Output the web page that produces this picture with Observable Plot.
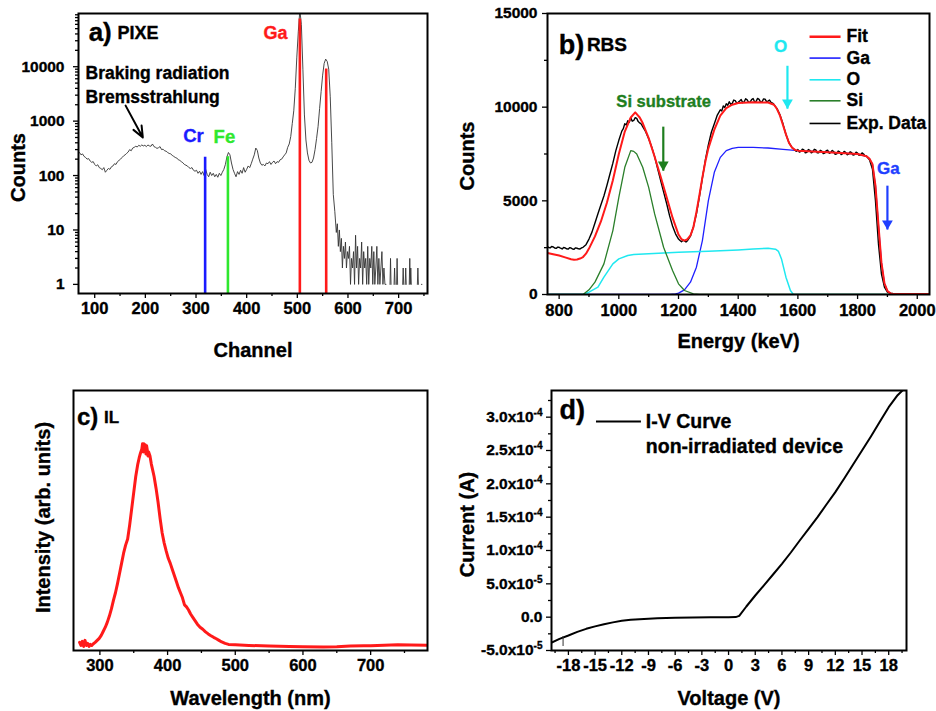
<!DOCTYPE html>
<html><head><meta charset="utf-8">
<script src="https://cdn.jsdelivr.net/npm/d3@7"></script>
<script src="https://cdn.jsdelivr.net/npm/@observablehq/plot@0.6"></script>
<style>
html,body{margin:0;padding:0;background:#fff;}
#wrap{position:relative;width:936px;height:711px;overflow:hidden;background:#fff;}
.panel{position:absolute;}
</style></head><body>
<div id="wrap">
<div class="panel" id="pa" style="left:0px;top:0px"></div>
<div class="panel" id="pb" style="left:440px;top:0px"></div>
<div class="panel" id="pc" style="left:0px;top:360px"></div>
<div class="panel" id="pd" style="left:440px;top:360px"></div>
</div>
<script>
// ---------------- Panel a) PIXE ----------------
const pixeSpectrum = [
[70,265],[73,240],[76,250],[79,225],[82,215],[85,200],[88,205],[91,185],[94,175],[97,180],[100,160],[103,150],[106,158],[109,140],[112,135],[115,128],[118,140],[121,115],[124,125],[127,135],[130,130],[133,145],[136,150],[139,165],[142,160],[145,180],[148,190],[151,200],[154,215],[157,230],[160,240],[163,255],[166,270],[169,300],[172,285],[175,320],[178,330],[181,345],[184,335],[187,360],[190,345],[193,365],[196,350],[199,360],[202,340],[205,365],[208,350],[211,345],[214,380],[217,340],[220,330],[223,315],[226,325],[229,340],[232,300],[235,305],[238,285],[241,280],[244,265],[247,255],[250,250],[253,235],[256,225],[259,215],[262,210],[265,195],[268,190],[271,180],[274,172],[277,160],[280,155],[283,150],[286,140],[289,135],[292,140],[295,125],[298,120],[301,125],[304,110],[307,120],[310,105],[313,118],[316,100],[319,130],[322,105],[325,95],[328,115],[331,100],[334,110],[337,95],[340,105],[343,93],[346,110],[349,100],[352,115],[355,130],[358,160],[361,220],[364,265],[367,240],[370,170],[373,130],[376,110],[379,95],[382,118],[385,105],[388,125],[391,110],[394,140],[397,115],[400,130],[403,150],[406,140],[409,165],[412,200],[415,240],[418,320],[421,290],[424,210],[427,170],[430,155],[433,160],[436,150],[439,170],[442,165],[445,180],[448,160],[451,175],[454,185],[457,165],[460,180],[463,175],[466,195],[469,200],[472,220],[475,240],[478,260],[481,330],[484,380],[487,520],[490,900],[493,1550],[496,4000],[499,15000],[502,45000],[505,110000],[508,60000],[511,9000],[514,1300],[517,450],[520,260],[523,190],[526,170],[529,175],[532,210],[535,300],[538,480],[541,800],[544,1700],[547,3500],[550,7000],[553,11500],[556,13800],[559,12500],[562,9000],[565,2800],[568,400],[571,45],[574,22],[577,9],[579,13],[581,5],[583,10],[585,4],[587,7],[589,2],[591,5],[593,3],[595,6],[597,2],[599,4],[601,3],[603,5],[605,1],[607,3],[609,2],[611,4],[613,1],[615,8],[617,2],[619,5],[621,1],[623,3],[625,2],[627,6],[629,1],[631,4],[633,2],[635,3],[637,1],[639,5],[641,1],[643,3],[645,2],[647,5],[649,1],[651,4],[653,1],[655,2],[657,5],[659,1],[661,3],[663,1],[665,2],[667,4],[669,1],[671,2],[673,1],[675,1],[676,null],[682,null],[683,1],[684,3],[685,1],[686,null],[690,null],[691,1],[692,2],[693,1],[694,null],[695,null],[696,1],[697,3],[698,1],[699,null],[707,null],[708,1],[709,2],[710,1],[711,null],[712,null],[713,1],[714,2],[715,1],[716,null],[720,null],[721,1],[722,3],[723,1],[724,2],[725,1],[726,null],[736,null],[737,1],[738,2],[739,1],[740,null],[744,null],[745,1],[746,1]
];
const pixeLineChannel = [318, 363, 505, 557];
const pixeLineTop = [217, 222, 75000, 9070];
const pixeLineColor = ["#1a1aff", "#2ee82e", "#ff1a1a", "#ff1a1a"];
const aXDomain = [68, 757];
const aYDomain = [0.68, 95000];
const aXTicks = [100, 200, 300, 400, 500, 600, 700];
const aXMinor = [150, 250, 350, 450, 550, 650, 750];
const aYTicks = [1, 10, 100, 1000, 10000];
const aYTickLabels = ["1", "10", "100", "1000", "10000"];

// ---------------- Panel b) RBS ----------------
const bExp = [
[761,2560],[765,2510],[770,2490],[775,2560],[780,2540],[785,2480],[790,2460],[795,2530],[800,2520],[805,2470],[810,2430],[815,2510],[820,2490],[825,2440],[830,2420],[835,2500],[840,2480],[845,2430],[850,2410],[855,2490],[860,2470],[865,2440],[870,2430],[875,2490],[880,2520],[890,2660],[900,2960],[910,3330],[920,3820],[930,4310],[940,4790],[950,5260],[960,5820],[970,6420],[980,7010],[990,7680],[1000,8230],[1010,8720],[1015,8850],[1020,9120],[1025,9050],[1030,9280],[1035,9200],[1040,9430],[1045,9250],[1050,9290],[1055,9440],[1060,9400],[1065,9230],[1070,9160],[1075,9100],[1080,8960],[1090,8690],[1100,8320],[1110,7880],[1120,7360],[1130,6720],[1140,6090],[1150,5480],[1160,4870],[1170,4210],[1180,3660],[1190,3240],[1200,2960],[1205,2880],[1210,2820],[1215,2900],[1220,2860],[1225,2800],[1230,2870],[1240,3120],[1250,3620],[1260,4310],[1270,5230],[1280,6210],[1290,7180],[1300,7990],[1310,8660],[1320,9120],[1330,9580],[1340,9860],[1345,9800],[1350,10060],[1355,9980],[1360,10180],[1365,10100],[1370,10290],[1375,10150],[1380,10200],[1385,10380],[1390,10350],[1395,10220],[1400,10260],[1405,10330],[1410,10410],[1415,10240],[1420,10290],[1425,10450],[1430,10390],[1435,10260],[1440,10270],[1445,10400],[1450,10460],[1455,10280],[1460,10310],[1465,10470],[1470,10420],[1475,10270],[1480,10290],[1485,10440],[1490,10430],[1495,10300],[1500,10320],[1505,10380],[1510,10260],[1515,10220],[1520,10140],[1530,9920],[1540,9590],[1550,9110],[1560,8540],[1570,8110],[1580,7850],[1585,7780],[1590,7710],[1595,7640],[1600,7740],[1605,7600],[1610,7640],[1615,7760],[1620,7720],[1625,7560],[1630,7590],[1635,7740],[1640,7690],[1645,7560],[1650,7610],[1655,7750],[1660,7720],[1665,7560],[1670,7570],[1675,7700],[1680,7660],[1685,7520],[1690,7550],[1695,7680],[1700,7700],[1705,7540],[1710,7570],[1715,7690],[1720,7630],[1725,7480],[1730,7510],[1735,7660],[1740,7610],[1745,7470],[1750,7520],[1755,7640],[1760,7590],[1765,7460],[1770,7490],[1775,7620],[1780,7570],[1785,7440],[1790,7470],[1795,7600],[1800,7550],[1805,7430],[1810,7450],[1815,7560],[1820,7500],[1825,7400],[1830,7380],[1840,7190],[1850,6680],[1860,5000],[1870,2700],[1880,1100],[1890,390],[1900,130],[1910,70],[1920,40],[1940,35],[1960,25],[1980,35],[2000,28],[2020,32],[2041,30]
];
const bFit = [
[761,2220],[780,2150],[800,2080],[820,1980],[840,1880],[850,1860],[860,1870],[870,1920],[880,2000],[890,2180],[900,2450],[920,3100],[940,3900],[960,4900],[980,6100],[1000,7500],[1020,8700],[1040,9450],[1055,9720],[1070,9450],[1080,9150],[1100,8350],[1120,7350],[1140,6300],[1160,5200],[1180,4100],[1200,3200],[1210,2950],[1220,2880],[1230,2950],[1240,3150],[1250,3600],[1260,4400],[1270,5300],[1280,6250],[1290,7100],[1300,7800],[1320,8800],[1340,9550],[1360,9950],[1380,10130],[1400,10220],[1450,10260],[1500,10250],[1520,10130],[1530,9900],[1540,9550],[1550,9050],[1560,8550],[1570,8100],[1580,7850],[1590,7720],[1600,7680],[1700,7600],[1800,7500],[1830,7380],[1840,7250],[1850,6950],[1860,5800],[1870,3700],[1880,1700],[1890,600],[1900,190],[1910,60],[1920,30],[2041,20]
];
const bGa = [
[761,0],[1170,0],[1190,30],[1200,70],[1220,250],[1240,660],[1260,1460],[1280,2880],[1300,5010],[1320,6520],[1340,7320],[1360,7680],[1380,7800],[1400,7850],[1450,7850],[1500,7820],[1550,7750],[1600,7680],[1700,7600],[1800,7500],[1830,7380],[1840,7250],[1850,6950],[1860,5800],[1870,3700],[1880,1700],[1890,600],[1900,190],[1910,60],[1920,0],[2041,0]
];
const bO = [
[761,0],[880,0],[900,124],[930,390],[950,924],[980,1635],[1000,1900],[1030,2080],[1050,2130],[1100,2170],[1200,2260],[1300,2310],[1400,2380],[1450,2430],[1500,2470],[1525,2420],[1535,2300],[1545,1900],[1560,924],[1575,213],[1585,0],[2041,0]
];
const bSi = [
[761,0],[880,0],[900,250],[920,660],[950,1635],[980,3410],[1000,5190],[1020,6790],[1040,7680],[1050,7640],[1060,7500],[1080,6790],[1100,5720],[1120,4300],[1150,2520],[1180,1280],[1200,570],[1220,213],[1250,35],[1270,0],[2041,0]
];
const bLegendLabels = ["Fit", "Ga", "O", "Si", "Exp. Data"];
const bLegendColor = ["#ff1a1a", "#1f1fff", "#1fe8f0", "#2a7f2a", "#000000"];
const bLegendY = [13760, 12620, 11460, 10340, 9130];
const bArrowX = [1565, 1149, 1900];
const bArrowTop = [12210, 8960, 5810];
const bArrowTip = [9920, 6610, 3470];
const bArrowColor = ["#1fe8f0", "#1e7e1e", "#1f3fff"];
const bXDomain = [761, 2041];
const bYDomain = [0, 15000];
const bXTicks = [800, 1000, 1200, 1400, 1600, 1800, 2000];
const bXMinor = [900, 1100, 1300, 1500, 1700, 1900];
const bYTicks = [0, 5000, 10000, 15000];
const bYMinor = [2500, 7500, 12500];

// ---------------- Panel c) IL ----------------
const ilSpectrum = [
[270,0.02],[272,0.005],[274,0.025],[276,0.0],[278,0.03],[280,0.005],[282,0.015],[284,0.0],[286,0.01],[288,0.005],[290,0.012],[293,0.02],[296,0.03],[299,0.04],[302,0.055],[305,0.075],[308,0.095],[311,0.12],[314,0.15],[317,0.185],[320,0.227],[323,0.265],[326,0.31],[329,0.36],[332,0.41],[335,0.46],[338,0.5],[341,0.53],[344,0.6],[347,0.68],[350,0.76],[353,0.84],[356,0.9],[358,0.93],[360,0.955],[362,0.975],[363,1.0],[364,0.96],[365,1.0],[366,0.97],[367,0.995],[368,0.95],[369,0.99],[370,0.97],[371,0.94],[372,0.96],[374,0.94],[376,0.9],[378,0.87],[380,0.84],[383,0.78],[386,0.71],[389,0.63],[392,0.56],[395,0.51],[398,0.47],[401,0.435],[404,0.41],[407,0.38],[410,0.35],[413,0.32],[416,0.29],[419,0.265],[422,0.24],[425,0.205],[428,0.195],[431,0.18],[434,0.16],[437,0.145],[440,0.13],[444,0.11],[448,0.095],[452,0.085],[456,0.072],[460,0.062],[464,0.053],[468,0.045],[472,0.038],[476,0.03],[480,0.022],[485,0.015],[490,0.01],[500,0.008],[520,0.005],[550,0.002],[580,0.0],[600,-0.002],[630,-0.003],[650,-0.002],[670,0.002],[690,0.004],[700,0.003],[720,0.006],[740,0.008],[760,0.007],[784,0.006]
];
const cXDomain = [261, 784];
const cYDomain = [-0.02, 1.263];
const cXTicks = [300, 400, 500, 600, 700];
const cXMinor = [350, 450, 550, 650, 750];

// ---------------- Panel d) I-V ----------------
const ivCurve = [
[-20,-3.9e-5],[-19,-3.25e-5],[-18,-2.75e-5],[-17,-2.2e-5],[-16,-1.75e-5],[-15,-1.38e-5],[-14,-1.05e-5],[-13,-7.8e-6],[-12,-5.5e-6],[-11,-4e-6],[-10,-3e-6],[-9,-2.2e-6],[-8,-1.6e-6],[-6,-1e-6],[-4,-6e-7],[-2,-3e-7],[0,0],[0.8,1e-7],[1.2,2e-6],[2,1.6e-5],[3,3.25e-5],[4,4.8e-5],[5,6.4e-5],[6,8e-5],[7,9.7e-5],[8,1.15e-4],[9,1.325e-4],[10,1.5e-4],[11,1.69e-4],[12,1.875e-4],[13,2.08e-4],[14,2.29e-4],[15,2.5e-4],[16,2.71e-4],[17,2.93e-4],[18,3.15e-4],[19,3.33e-4],[20,3.46e-4]
];
const ivSpike = [[-18.6, -2.9e-5, -4.4e-5]];
const dXDomain = [-19.9, 20.0];
const dYDomain = [-5e-5, 3.4e-4];
const dXTicks = [-18, -15, -12, -9, -6, -3, 0, 3, 6, 9, 12, 15, 18];
const dXMinor = [-19.5, -16.5, -13.5, -10.5, -7.5, -4.5, -1.5, 1.5, 4.5, 7.5, 10.5, 13.5, 16.5, 19.5];
const dYTicks = [-5e-5, 0, 5e-5, 1e-4, 1.5e-4, 2e-4, 2.5e-4, 3e-4];
const dYTickLabels = ["-5.0x10^-5", "0.0", "5.0x10^-5", "1.0x10^-4", "1.5x10^-4", "2.0x10^-4", "2.5x10^-4", "3.0x10^-4"];
const dYMinor = [-2.5e-5, 2.5e-5, 7.5e-5, 1.25e-4, 1.75e-4, 2.25e-4, 2.75e-4, 3.25e-4];

// ---------------- helpers ----------------
const FONT = "'Liberation Sans', Arial, Helvetica, sans-serif";
const style = {fontFamily: FONT, fontSize: "15px", fontWeight: "bold", color: "#000", background: "transparent", overflow: "visible"};

function tickMarks(axis, major, minor, fmt, opts) {
  const out = [];
  if (minor && minor.length) out.push(axis({ticks: minor, tickSize: 3, tickFormat: () => "", label: null, strokeWidth: 1.3}));
  out.push(axis({ticks: major, tickSize: 5, label: null, strokeWidth: 1.3, tickFormat: fmt, fontWeight: "bold", ...opts}));
  return out;
}
function title(text, frameAnchor, dx, dy, rotate) {
  return Plot.text([text], {frameAnchor, dx, dy, rotate: rotate || 0, textAnchor: "middle", lineAnchor: "middle", fontSize: 20, fontWeight: "bold", fill: "#000"});
}
function note(text, x, y, opts) {
  return Plot.text([text], {x: [x], y: [y], fontWeight: "bold", lineAnchor: "middle", ...opts});
}
const frame = () => Plot.frame({stroke: "#000", strokeWidth: 2});

// set tick-label font sizes and thicken glyphs slightly
function finish(svg, xSize, ySize) {
  for (const g of svg.querySelectorAll("g[aria-label]")) {
    const lab = g.getAttribute("aria-label");
    if (lab === "x-axis tick label") { g.setAttribute("font-size", xSize); g.style.fontSize = xSize + "px"; }
    if (lab === "y-axis tick label") { g.setAttribute("font-size", ySize); g.style.fontSize = ySize + "px"; }
  }
}
function thicken(svg) {
  for (const t of svg.querySelectorAll("text")) {
    const f = getComputedStyle(t).fill;
    t.style.stroke = f && f !== "none" ? f : "#000";
    t.style.strokeWidth = "0.35px";
  }
}

// minor log ticks for panel a
const aYMinor = [];
for (const dec of aYTicks) for (let k = 2; k <= 9; k++) { const v = k * dec; if (v <= aYDomain[1]) aYMinor.push(v); }

// ---------------- build panel a ----------------
const A = Plot.plot({
  width: 440, height: 360, marginLeft: 78, marginRight: 13, marginTop: 13, marginBottom: 67,
  style, color: {type: "identity"},
  x: {domain: aXDomain}, y: {type: "log", domain: aYDomain},
  marks: [
    ...tickMarks(Plot.axisX, aXTicks, aXMinor, d => String(d), {tickPadding: 4}),
    ...tickMarks(Plot.axisY, aYTicks, aYMinor, d => aYTickLabels[aYTicks.indexOf(d)], {tickPadding: 9}),
    Plot.line(pixeSpectrum, {x: d => d[0], y: d => d[1], stroke: "#333", strokeWidth: 0.9, clip: true}),
    Plot.ruleX(pixeLineChannel, {x: d => d, y1: aYDomain[0], y2: (d, i) => pixeLineTop[i], stroke: (d, i) => pixeLineColor[i], strokeWidth: 2.6}),
    Plot.arrow([0], {x1: 161, y1: 1925, x2: 195, y2: 500, stroke: "#000", strokeWidth: 2, headLength: 10, headAngle: 45}),
    note("a)", 88, 42000, {textAnchor: "start", fontSize: 26}),
    note("PIXE", 145, 42000, {textAnchor: "start", fontSize: 18}),
    note("Ga", 457, 42000, {fontSize: 18, fill: "#ff1a1a"}),
    note("Braking radiation", 82, 7440, {textAnchor: "start", fontSize: 17.5}),
    note("Bremsstrahlung", 82, 2700, {textAnchor: "start", fontSize: 17.5}),
    note("Cr", 295, 540, {fontSize: 18.5, fill: "#1a1aff"}),
    note("Fe", 356, 500, {fontSize: 18.5, fill: "#2ee82e"}),
    title("Counts", "left", -60, 14, -90),
    title("Channel", "bottom", 0, 57),
    frame()
  ]
});
document.getElementById("pa").appendChild(A);
finish(A, 16.5, 15.5);

// ---------------- build panel b ----------------
const B = Plot.plot({
  width: 496, height: 360, marginLeft: 107, marginRight: 7, marginTop: 13, marginBottom: 66,
  style, color: {type: "identity"},
  x: {domain: bXDomain}, y: {domain: bYDomain},
  marks: [
    ...tickMarks(Plot.axisX, bXTicks, bXMinor, d => String(d), {tickPadding: 5}),
    ...tickMarks(Plot.axisY, bYTicks, bYMinor, d => String(d), {tickPadding: 5}),
    Plot.line(bGa, {x: d => d[0], y: d => d[1], stroke: "#1f1fff", strokeWidth: 1.3, clip: true}),
    Plot.line(bO, {x: d => d[0], y: d => d[1], stroke: "#1fe8f0", strokeWidth: 1.5, clip: true}),
    Plot.line(bSi, {x: d => d[0], y: d => d[1], stroke: "#2a7f2a", strokeWidth: 1.3, clip: true}),
    Plot.line(bExp, {x: d => d[0], y: d => d[1], stroke: "#000", strokeWidth: 1.4, clip: true}),
    Plot.line(bFit, {x: d => d[0], y: d => d[1], stroke: "#ff1a1a", strokeWidth: 2, clip: true}),
    Plot.link(bLegendLabels, {x1: 1639, x2: 1743, y1: (d, i) => bLegendY[i], y2: (d, i) => bLegendY[i], stroke: (d, i) => bLegendColor[i], strokeWidth: (d, i) => i === 0 ? 2.5 : 1.6}),
    Plot.text(bLegendLabels, {x: 1763, y: (d, i) => bLegendY[i], textAnchor: "start", lineAnchor: "middle", fontSize: 17.5, fontWeight: "bold", fill: "#000"}),
    Plot.link(bArrowX, {x1: d => d, x2: d => d, y1: (d, i) => bArrowTop[i], y2: (d, i) => bArrowTip[i], stroke: (d, i) => bArrowColor[i], strokeWidth: 2.2}),
    Plot.dot(bArrowX, {x: d => d, y: (d, i) => bArrowTip[i], symbol: "triangle", rotate: 180, r: 4, fill: (d, i) => bArrowColor[i], stroke: "none", dy: -6}),
    note("b)", 799, 13300, {textAnchor: "start", fontSize: 27}),
    note("RBS", 893, 13300, {textAnchor: "start", fontSize: 19}),
    note("O", 1542, 13220, {fontSize: 17, fill: "#1fe8f0"}),
    note("Si substrate", 1150, 10290, {fontSize: 16.5, fill: "#1e7e1e"}),
    note("Ga", 1903, 6720, {fontSize: 17, fill: "#1f3fff"}),
    title("Counts", "left", -80, 2, -90),
    title("Energy (keV)", "bottom", 0, 47),
    frame()
  ]
});
document.getElementById("pb").appendChild(B);
finish(B, 16.5, 15.5);

// ---------------- build panel c ----------------
const C = Plot.plot({
  width: 440, height: 351, marginLeft: 73, marginRight: 13, marginTop: 30, marginBottom: 61,
  style,
  x: {domain: cXDomain}, y: {domain: cYDomain, axis: null},
  marks: [
    ...tickMarks(Plot.axisX, cXTicks, cXMinor, d => String(d), {tickPadding: 4}),
    Plot.line(ilSpectrum, {x: d => d[0], y: d => d[1], stroke: "#ff1a1a", strokeWidth: 3, clip: true}),
    note("c)", 266, 1.13, {textAnchor: "start", fontSize: 24}),
    note("IL", 306, 1.13, {textAnchor: "start", fontSize: 17}),
    title("Intensity (arb. units)", "left", -30, -3, -90),
    title("Wavelength (nm)", "bottom", 0, 48),
    frame()
  ]
});
document.getElementById("pc").appendChild(C);
finish(C, 16.5, 15.5);

// ---------------- build panel d ----------------
const D = Plot.plot({
  width: 496, height: 351, marginLeft: 111, marginRight: 30, marginTop: 30, marginBottom: 61,
  style,
  x: {domain: dXDomain}, y: {domain: dYDomain},
  marks: [
    ...tickMarks(Plot.axisX, dXTicks, dXMinor, d => String(d), {tickPadding: 4}),
    ...tickMarks(Plot.axisY, dYTicks, dYMinor, d => dYTickLabels[dYTicks.indexOf(d)], {tickPadding: 4}),
    Plot.line(ivCurve, {x: d => d[0], y: d => d[1], stroke: "#000", strokeWidth: 2, clip: true}),
    Plot.ruleX(ivSpike, {x: d => d[0], y1: d => d[1], y2: d => d[2], stroke: "#333", strokeWidth: 1}),
    Plot.link([0], {x1: -14.9, x2: -9.85, y1: 2.935e-4, y2: 2.935e-4, stroke: "#000", strokeWidth: 2}),
    note("d)", -19.0, 3.1e-4, {textAnchor: "start", fontSize: 27}),
    note("I-V Curve", -9.3, 2.935e-4, {textAnchor: "start", fontSize: 19.5}),
    note("non-irradiated device", -9.3, 2.56e-4, {textAnchor: "start", fontSize: 19.5}),
    title("Current (A)", "left", -84, 4, -90),
    title("Voltage (V)", "bottom", 0, 48),
    frame()
  ]
});
document.getElementById("pd").appendChild(D);
finish(D, 16.5, 15.5);

// superscript exponents on panel d tick labels
for (const t of D.querySelectorAll("text")) {
  const s = t.textContent;
  const i = s.indexOf("^");
  if (i < 0) continue;
  t.textContent = s.slice(0, i);
  const sup = document.createElementNS("http://www.w3.org/2000/svg", "tspan");
  sup.setAttribute("dy", "-6");
  sup.setAttribute("font-size", "10");
  sup.textContent = s.slice(i + 1);
  t.appendChild(sup);
}
for (const s of [A, B, C, D]) thicken(s);
</script></body></html>
